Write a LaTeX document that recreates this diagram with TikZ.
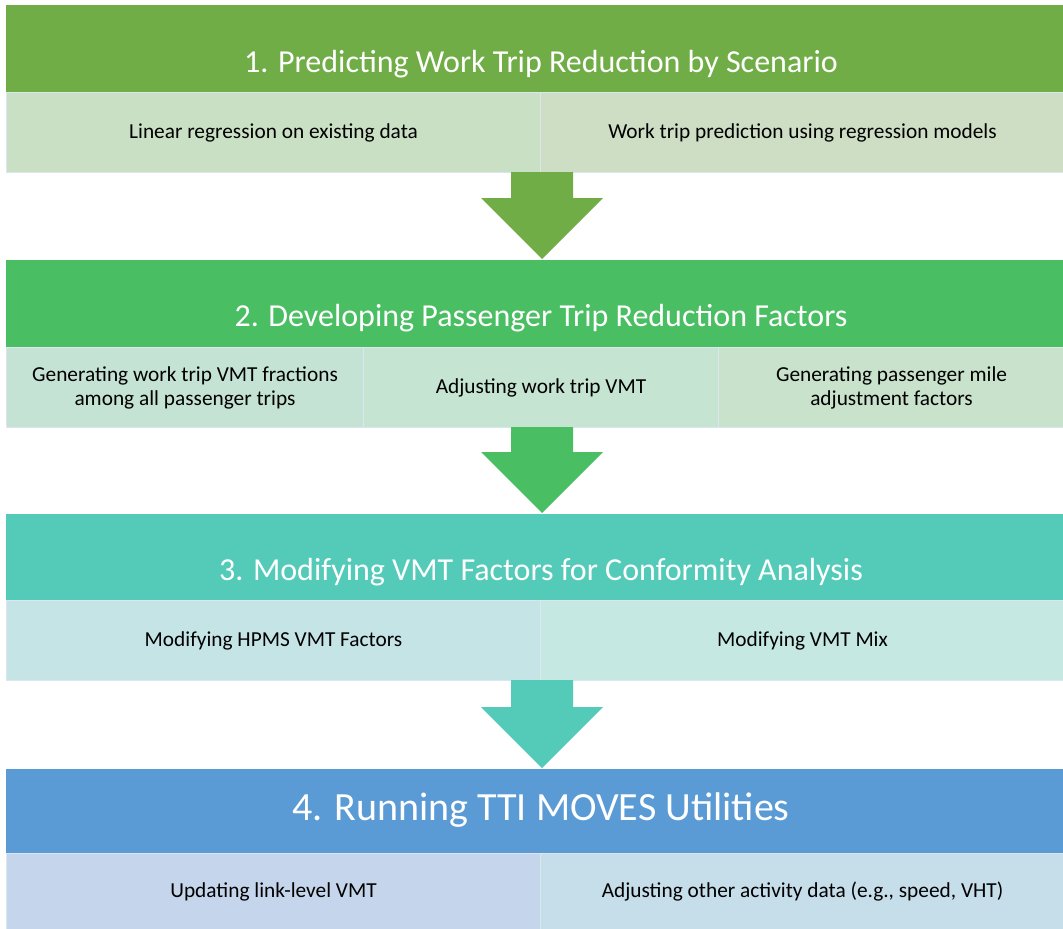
\documentclass[tikz,border=0pt]{standalone}
\usepackage{fontspec}
\setmainfont{Carlito}
\begin{document}
\definecolor{hA}{HTML}{70AD47}
\definecolor{hB}{HTML}{4ABE62}
\definecolor{hC}{HTML}{53CBB8}
\definecolor{hD}{HTML}{5B9BD5}
\definecolor{sA1}{HTML}{C9E0C4}
\definecolor{sA2}{HTML}{CDDEC5}
\definecolor{sB1}{HTML}{C5E3D4}
\definecolor{sB2}{HTML}{C5E4D2}
\definecolor{sB3}{HTML}{C9E2CC}
\definecolor{sC1}{HTML}{C5E4E6}
\definecolor{sC2}{HTML}{C5E8E3}
\definecolor{sD1}{HTML}{C5D6EC}
\definecolor{sD2}{HTML}{C6DDEA}
\definecolor{edge}{HTML}{DCE6EE}
\begin{tikzpicture}[x=0.75pt,y=-0.75pt,
  title/.style={text=white,inner sep=0pt,font=\fontsize{24}{28}\selectfont},
  subbox/.style={draw=edge,line width=0.8pt,inner sep=0pt,
    font=\fontsize{16}{18}\selectfont,align=center,anchor=north west}]
\useasboundingbox (0,0) rectangle (1063,928);

% stage 1
\fill[hA] (6,5) rectangle (1063,92);
\node[title] (h1) at (541,64) {1. Predicting Work Trip Reduction by Scenario};
\node[subbox,fill=sA1,minimum width=534*0.75pt,minimum height=80*0.75pt] (s11) at (6,92) {Linear regression on existing data};
\node[subbox,fill=sA2,minimum width=524*0.75pt,minimum height=80*0.75pt] (s12) at (540,92) {Work trip prediction using regression models};

% arrow 1 -> 2
\fill[hA] (511,172) -- (573,172) -- (573,198) -- (603,198) -- (542,259) -- (481,198) -- (511,198) -- cycle;

% stage 2
\fill[hB] (6,260) rectangle (1063,347);
\node[title] (h2) at (541,318) {2. Developing Passenger Trip Reduction Factors};
\node[subbox,fill=sB1,minimum width=357*0.75pt,minimum height=80*0.75pt] (s21) at (6,347) {Generating work trip VMT fractions\\among all passenger trips};
\node[subbox,fill=sB2,minimum width=355*0.75pt,minimum height=80*0.75pt] (s22) at (363,347) {Adjusting work trip VMT};
\node[subbox,fill=sB3,minimum width=346*0.75pt,minimum height=80*0.75pt] (s23) at (718,347) {Generating passenger mile\\adjustment factors};

% arrow 2 -> 3
\fill[hB] (511,427) -- (573,427) -- (573,452) -- (603,452) -- (542,513) -- (481,452) -- (511,452) -- cycle;

% stage 3
\fill[hC] (6,514) rectangle (1063,600);
\node[title] (h3) at (541,572) {3. Modifying VMT Factors for Conformity Analysis};
\node[subbox,fill=sC1,minimum width=534*0.75pt,minimum height=80*0.75pt] (s31) at (6,600) {Modifying HPMS VMT Factors};
\node[subbox,fill=sC2,minimum width=524*0.75pt,minimum height=80*0.75pt] (s32) at (540,600) {Modifying VMT Mix};

% arrow 3 -> 4
\fill[hC] (511,680) -- (573,680) -- (573,707) -- (603,707) -- (542,768) -- (481,707) -- (511,707) -- cycle;

% stage 4
\fill[hD] (6,769) rectangle (1063,853);
\node[title,font=\fontsize{30}{34}\selectfont] (h4) at (541,810) {4. Running TTI MOVES Utilities};
\node[subbox,fill=sD1,minimum width=534*0.75pt,minimum height=76*0.75pt] (s41) at (6,853) {Updating link-level VMT};
\node[subbox,fill=sD2,minimum width=524*0.75pt,minimum height=76*0.75pt] (s42) at (540,853) {Adjusting other activity data (e.g., speed, VHT)};
\end{tikzpicture}
\end{document}
